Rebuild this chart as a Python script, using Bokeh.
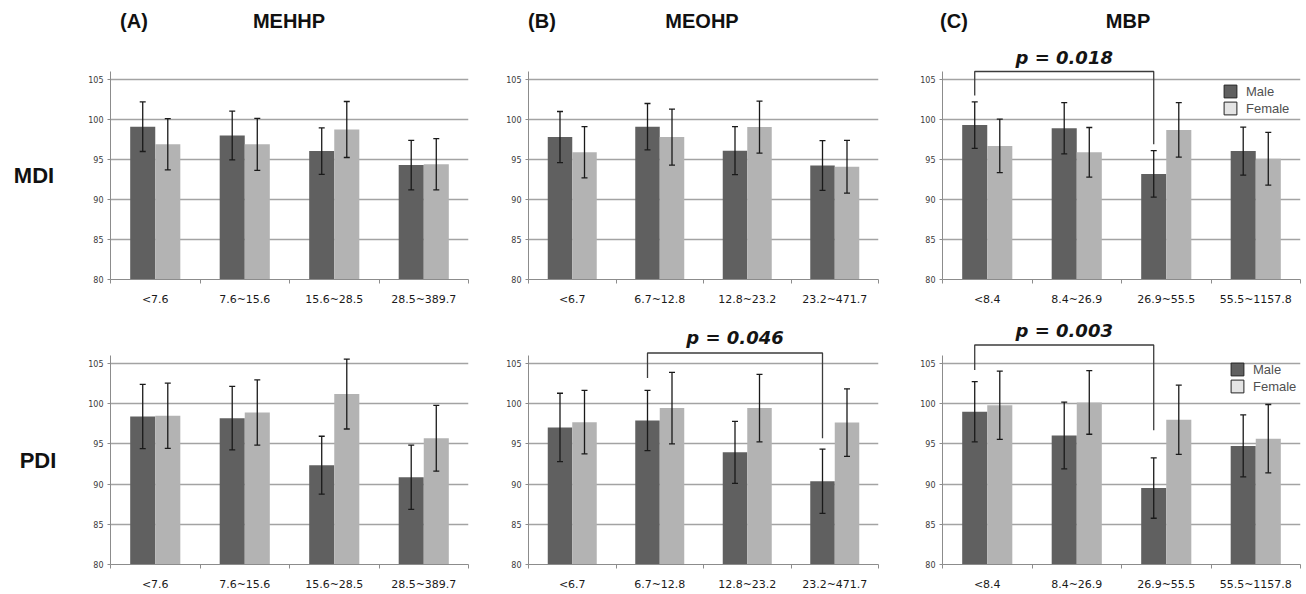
from bokeh.plotting import figure
from bokeh.models import (ColumnDataSource, Whisker, TeeHead, Legend, Div, LinearAxis,
                          CategoricalAxis, LegendItem, FixedTicker, Range1d, FactorRange)
from bokeh.transform import dodge
from bokeh.layouts import row, column
from bokeh.core.properties import value
from bokeh.embed import file_html
from bokeh.resources import INLINE

# ---------------- data ----------------
cats_mehhp = ["<7.6", "7.6~15.6", "15.6~28.5", "28.5~389.7"]
cats_meohp = ["<6.7", "6.7~12.8", "12.8~23.2", "23.2~471.7"]
cats_mbp = ["<8.4", "8.4~26.9", "26.9~55.5", "55.5~1157.8"]

# MDI
mehhp_mdi_male = [99.1, 98.0, 96.05, 94.3]
mehhp_mdi_male_err = [3.1, 3.05, 2.9, 3.1]
mehhp_mdi_female = [96.9, 96.9, 98.75, 94.4]
mehhp_mdi_female_err = [3.2, 3.25, 3.5, 3.2]

meohp_mdi_male = [97.8, 99.1, 96.1, 94.25]
meohp_mdi_male_err = [3.2, 2.9, 3.0, 3.1]
meohp_mdi_female = [95.9, 97.8, 99.05, 94.1]
meohp_mdi_female_err = [3.2, 3.5, 3.25, 3.3]

mbp_mdi_male = [99.3, 98.9, 93.2, 96.05]
mbp_mdi_male_err = [2.9, 3.2, 2.9, 3.0]
mbp_mdi_female = [96.7, 95.9, 98.7, 95.1]
mbp_mdi_female_err = [3.35, 3.1, 3.4, 3.3]

# PDI
mehhp_pdi_male = [98.4, 98.2, 92.35, 90.85]
mehhp_pdi_male_err = [4.0, 3.95, 3.6, 4.0]
mehhp_pdi_female = [98.5, 98.9, 101.2, 95.7]
mehhp_pdi_female_err = [4.05, 4.05, 4.35, 4.1]

meohp_pdi_male = [97.05, 97.9, 93.95, 90.35]
meohp_pdi_male_err = [4.25, 3.75, 3.85, 4.0]
meohp_pdi_female = [97.7, 99.45, 99.45, 97.65]
meohp_pdi_female_err = [3.95, 4.45, 4.2, 4.2]

mbp_pdi_male = [99.0, 96.05, 89.5, 94.75]
mbp_pdi_male_err = [3.75, 4.15, 3.75, 3.85]
mbp_pdi_female = [99.8, 100.15, 98.0, 95.65]
mbp_pdi_female_err = [4.25, 3.95, 4.3, 4.25]

y_ticks = [80, 85, 90, 95, 100, 105]

# significance brackets: (from idx, to idx, bracket y, left leg end, right leg end, label, label y)
bracket_mbp_mdi = (0, 2, 106.0, 103.0, 96.9, "p = 0.018", 107.8)
bracket_meohp_pdi = (1, 3, 106.3, 103.2, 95.7, "p = 0.046", 108.2)
bracket_mbp_pdi = (0, 2, 107.3, 104.2, 96.7, "p = 0.003", 109.1)

legend_labels = ["Male", "Female"]
panel_letters = ["(A)", "(B)", "(C)"]
panel_titles = ["MEHHP", "MEOHP", "MBP"]
row_titles = ["MDI", "PDI"]

# ---------------- style ----------------
MALE = "#606060"
FEMALE = "#b3b3b3"
LEG_FEMALE = "#e4e4e4"
GRID = "#a3a3a3"
AXIS = "#8c8c8c"
OFF = 0.14
BW = 0.28


def panel(cats, m, me, f, fe, width, left, right, height, top_b, bot_b, y_end,
          bracket=None, legend_loc=None):
    p = figure(x_range=FactorRange(*cats, range_padding=0),
               y_range=Range1d(80, y_end), x_axis_location=None,
               width=width, height=height, output_backend="svg",
               toolbar_location=None, title=None)
    p.min_border_left = left
    p.min_border_right = right
    p.min_border_top = top_b
    p.min_border_bottom = bot_b
    p.outline_line_color = None
    p.background_fill_color = "white"
    p.border_fill_color = "white"

    src = ColumnDataSource(dict(
        x=cats, male=m, female=f,
        mu=[a + b for a, b in zip(m, me)], ml=[a - b for a, b in zip(m, me)],
        fu=[a + b for a, b in zip(f, fe)], fl=[a - b for a, b in zip(f, fe)],
    ))
    p.vbar(x=dodge("x", -OFF, range=p.x_range), top="male", bottom=80, width=BW,
           source=src, fill_color=MALE, line_color=None)
    p.vbar(x=dodge("x", OFF, range=p.x_range), top="female", bottom=80, width=BW,
           source=src, fill_color=FEMALE, line_color=None)
    for off, up, lo in ((-OFF, "mu", "ml"), (OFF, "fu", "fl")):
        w = Whisker(base=dodge("x", off, range=p.x_range), upper=up, lower=lo,
                    source=src, line_color="#1a1a1a", line_width=1.3, level="overlay",
                    upper_head=TeeHead(size=6, line_color="#1a1a1a", line_width=1.3),
                    lower_head=TeeHead(size=6, line_color="#1a1a1a", line_width=1.3))
        p.add_layout(w)

    # x axis: boundary ticks (Excel style, at category edges, as minor ticks) + labels
    tick_axis = LinearAxis(ticker=FixedTicker(ticks=[], minor_ticks=list(range(len(cats) + 1))),
                           axis_line_color=AXIS, major_tick_line_color=None,
                           minor_tick_line_color=AXIS, minor_tick_in=0, minor_tick_out=4)
    p.add_layout(tick_axis, "below")
    cat_axis = CategoricalAxis(axis_line_color=None, major_tick_line_color=None,
                               minor_tick_line_color=None,
                               major_label_text_font="DejaVu Sans",
                               major_label_text_font_size="11px",
                               major_label_text_color="#1a1a1a",
                               major_label_standoff=3)
    p.add_layout(cat_axis, "below")

    p.xgrid.visible = False
    p.ygrid.ticker = FixedTicker(ticks=y_ticks)
    p.ygrid.grid_line_color = GRID
    p.ygrid.grid_line_width = 1.3
    p.yaxis.ticker = FixedTicker(ticks=y_ticks)
    p.yaxis.bounds = (80, 106)
    p.yaxis.axis_line_color = AXIS
    p.yaxis.major_tick_line_color = AXIS
    p.yaxis.major_tick_in = 0
    p.yaxis.major_tick_out = 3
    p.yaxis.minor_tick_line_color = None
    p.yaxis.major_label_text_font = "DejaVu Sans"
    p.yaxis.major_label_text_font_size = "8px"
    p.yaxis.major_label_text_color = "#3a3a3a"
    p.yaxis.major_label_standoff = 4

    if bracket is not None:
        i, j, yb, yl, yr, txt, yt = bracket
        xs = [(cats[i], -OFF), (cats[i], -OFF), (cats[j], -OFF), (cats[j], -OFF)]
        p.line(x=xs, y=[yl, yb, yb, yr], line_color="#3c3c3c", line_width=1.3)
        p.text(x=[(cats[(i + j) // 2], -OFF)], y=[yt], text=[txt],
               text_font=value("DejaVu Sans"),
               text_font_style="bold italic", text_font_size="18px",
               text_align="center", text_baseline="middle", text_color="#141414")

    if legend_loc is not None:
        # legend proxies, kept below the visible y range
        rm = p.vbar(x=cats[:1], top=[70], bottom=[69], width=BW,
                    fill_color=MALE, line_color="#222222")
        rf = p.vbar(x=cats[:1], top=[70], bottom=[69], width=BW,
                    fill_color=LEG_FEMALE, line_color="#222222")
        leg = Legend(items=[LegendItem(label=legend_labels[0], renderers=[rm]),
                            LegendItem(label=legend_labels[1], renderers=[rf])],
                     location=legend_loc, padding=0, margin=0, spacing=1,
                     glyph_width=16, glyph_height=16, label_height=16,
                     label_standoff=8, label_text_font="Liberation Sans",
                     label_text_font_size="13px", label_text_color="#505050",
                     background_fill_alpha=0, border_line_alpha=0)
        p.add_layout(leg)
    return p


def span(txt, x, y, size):
    return ('<span style="position:absolute;left:%dpx;top:%dpx;transform:translate(-50%%,-50%%);'
            'white-space:nowrap;font-family:\'Liberation Sans\',Arial,sans-serif;font-weight:bold;'
            'font-size:%s;color:#111111;line-height:1">%s</span>' % (x, y, size, txt))


HEAD_H = 45
TOP_H, TOP_B, TOP_END = 264, 30, 109.25
BOT_H, BOT_T, BOT_B, BOT_END = 285, 12, 30, 110.22

head_html = '<div style="position:relative;width:1306px;height:45px">'
for txt, x in zip(panel_letters, [134, 542, 954]):
    head_html += span(txt, x, 21, "20px")
for txt, x in zip(panel_titles, [289, 702, 1128]):
    head_html += span(txt, x, 21, "20px")
head_html += '</div>'
header = Div(text=head_html, width=1306, height=HEAD_H, margin=(0, 0, 0, 0))

mdi_div = Div(text='<div style="position:relative;width:60px;height:%dpx">%s</div>'
              % (TOP_H, span(row_titles[0], 34, 131, "22px")),
              width=60, height=TOP_H, margin=(0, 0, 0, 0))
pdi_div = Div(text='<div style="position:relative;width:60px;height:%dpx">%s</div>'
              % (BOT_H, span(row_titles[1], 38, 152, "22px")),
              width=60, height=BOT_H, margin=(0, 0, 0, 0))

a1 = panel(cats_mehhp, mehhp_mdi_male, mehhp_mdi_male_err, mehhp_mdi_female, mehhp_mdi_female_err,
           425, 50, 17, TOP_H, 0, TOP_B, TOP_END)
b1 = panel(cats_meohp, meohp_mdi_male, meohp_mdi_male_err, meohp_mdi_female, meohp_mdi_female_err,
           415, 43, 22, TOP_H, 0, TOP_B, TOP_END)
c1 = panel(cats_mbp, mbp_mdi_male, mbp_mdi_male_err, mbp_mdi_female, mbp_mdi_female_err,
           406, 42, 6, TOP_H, 0, TOP_B, TOP_END,
           bracket=bracket_mbp_mdi, legend_loc=(280, 163))

a2 = panel(cats_mehhp, mehhp_pdi_male, mehhp_pdi_male_err, mehhp_pdi_female, mehhp_pdi_female_err,
           425, 50, 17, BOT_H, BOT_T, BOT_B, BOT_END)
b2 = panel(cats_meohp, meohp_pdi_male, meohp_pdi_male_err, meohp_pdi_female, meohp_pdi_female_err,
           415, 43, 22, BOT_H, BOT_T, BOT_B, BOT_END, bracket=bracket_meohp_pdi)
c2 = panel(cats_mbp, mbp_pdi_male, mbp_pdi_male_err, mbp_pdi_female, mbp_pdi_female_err,
           406, 42, 6, BOT_H, BOT_T, BOT_B, BOT_END,
           bracket=bracket_mbp_pdi, legend_loc=(287, 170))

layout = column(header, row(mdi_div, a1, b1, c1), row(pdi_div, a2, b2, c2))
open("out.html", "w").write(file_html(layout, INLINE))
